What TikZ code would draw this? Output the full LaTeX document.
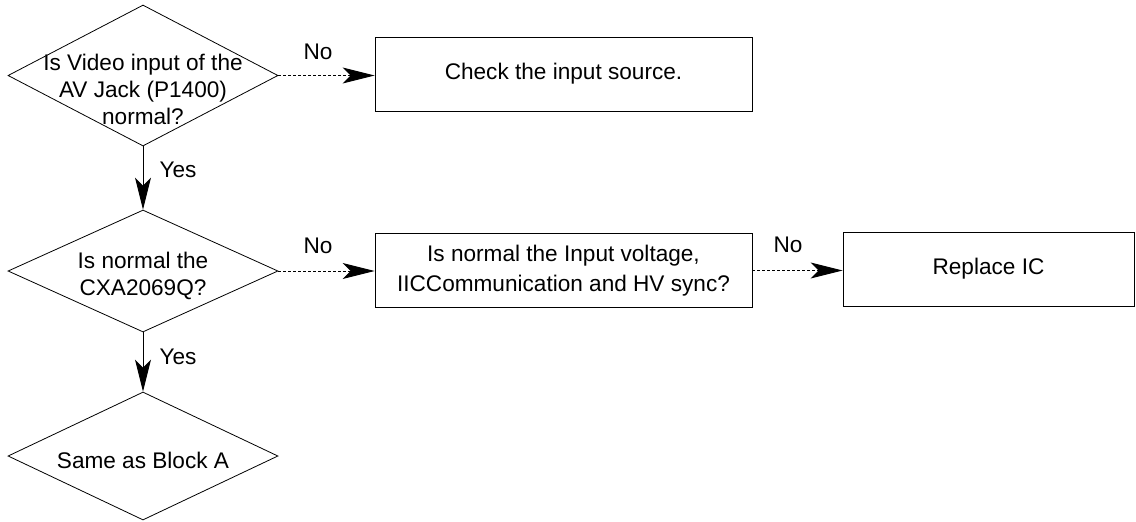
\documentclass[tikz,border=0pt]{standalone}
\usepackage{fontspec}
\setmainfont{Liberation Sans}
\usetikzlibrary{shapes.geometric,arrows.meta}

\begin{document}
\begin{tikzpicture}[x=0.5pt,y=-0.5pt,
    font=\fontsize{11.3}{13.5}\selectfont,
    decision/.style={draw,diamond,inner sep=0pt,minimum width=135pt,minimum height=#1},
    stepbox/.style={draw,rectangle,inner sep=0pt,align=center,minimum height=37pt,minimum width=#1},
    yes/.style={-{Stealth[length=16pt,width=8pt,inset=4pt]},line width=0.5pt},
    no/.style={-{Stealth[length=16pt,width=8pt,inset=4pt]},line width=0.5pt,dash pattern=on 1.5pt off 1pt}]
  \useasboundingbox (0,0) rectangle (1136,521);

  \node[decision=70.5pt,label={[align=center,yshift=-7pt]center:Is Video input of the\\AV Jack (P1400)\\normal?}] (q1) at (143,75.5) {};
  \node[decision=61pt,label={[align=center,yshift=-2.5pt]center:Is normal the\\CXA2069Q?}] (q2) at (143,271) {};
  \node[decision=64pt,label={[yshift=-2pt]center:Same as Block A}] (q3) at (143,456) {};

  \node[stepbox=188.5pt] (check) at (563.5,74) {Check the input source.};
  \node[stepbox=188.5pt,font=\fontsize{11.3}{15}\selectfont] (volt) at (563.5,270.5) {Is normal the Input voltage,\\IICCommunication and HV sync?};
  \node[stepbox=145.5pt] (ic) at (988.5,269) {Replace IC};

  \draw[yes] (q1.south) -- (q2.north);
  \draw[yes] (q2.south) -- (q3.north);
  \draw[no] (q1.east) -- (check.west |- q1.east);
  \draw[no] (q2.east) -- (volt.west |- q2.east);
  \draw[no] (volt.east) -- (ic.west |- volt.east);

  \foreach \x/\y/\t in {178/170/Yes,178/357/Yes,318/52/No,318/246/No,788/245/No} {
    \node (lbl-\t-\y) at (\x,\y) {\t};
  }
\end{tikzpicture}
\end{document}
